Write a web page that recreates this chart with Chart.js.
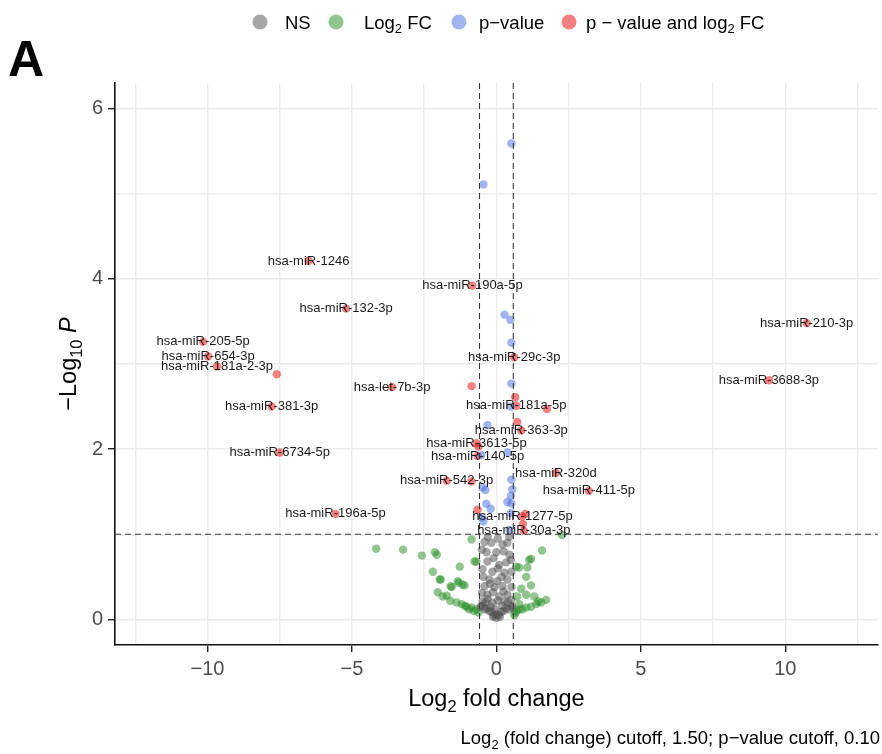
<!DOCTYPE html>
<html>
<head>
<meta charset="utf-8">
<script src="https://cdn.jsdelivr.net/npm/chart.js@4.4.1/dist/chart.umd.min.js"></script>
<style>
  body { margin: 0; background: #fff; }
  #wrap { width: 882px; height: 754px; }
</style>
</head>
<body>
<div id="wrap"><canvas id="volcano" width="882" height="754"></canvas></div>
<script>
// cutoffs
const fcCut = Math.log2(1.5);
const pCut = 1;

// ticks (minor ones get a grid line only)
const xTickValues = [-12.5, -10, -7.5, -5, -2.5, 0, 2.5, 5, 7.5, 10, 12.5];
const xTickLabels = ['', '−10', '', '−5', '', '0', '', '5', '', '10', ''];
const yTickValues = [0, 1, 2, 3, 4, 5, 6];
const yTickLabels = ['0', '', '2', '', '4', '', '6'];

// NS
const nsX = [-0.41, -0.17, 0.21, 0.38, 0.05, -0.30, 0.45, -0.34, 0.00, 0.45, -0.50, 0.25,
  -0.31, 0.10, 0.34, -0.10, 0.50, -0.48, -0.14, 0.28, 0.52, 0.05, -0.24, 0.03, 0.38, -0.45, 0.18,
  -0.41, -0.07, 0.21, 0.52, -0.22, -0.31, 0.10, 0.38, -0.12, 0.25, -0.50, -0.48, -0.14, 0.28, 0.52,
  -0.30, 0.05, -0.34, 0.34, -0.17, 0.17, 0.00, -0.48, 0.52, -0.25, 0.25, -0.08, 0.08, -0.40, 0.42,
  0.00, -0.12, 0.12, -0.55, 0.55, -0.20, 0.20, -0.05, 0.40, -0.38];
const nsY = [0.91, 0.90, 0.88, 0.90, 0.95, 0.97, 0.97, 0.79, 0.79, 0.76, 0.82, 0.80,
  0.68, 0.64, 0.67, 0.72, 0.70, 0.59, 0.56, 0.55, 0.56, 0.60, 0.47, 0.45, 0.47, 0.50, 0.50,
  0.39, 0.38, 0.39, 0.38, 0.42, 0.29, 0.27, 0.29, 0.32, 0.33, 0.31, 0.21, 0.20, 0.21, 0.23,
  0.24, 0.22, 0.13, 0.13, 0.09, 0.09, 0.06, 0.16, 0.16, 0.10, 0.10, 0.05, 0.05, 0.12, 0.12,
  0.02, 0.03, 0.03, 0.15, 0.14, 0.15, 0.16, 0.12, 0.20, 0.20];

// Log2 FC only
const fcX = [-4.16, -3.23, -2.58, -2.06, -1.27, -2.20, -1.93, -1.58, -1.31, -1.10, -2.03, -1.72,
  -0.69, -0.86, -0.76, -2.13, -1.96, -1.55, -1.34, -1.17, -1.86, -1.38, -1.20, -1.03, -0.86, -0.69,
  -0.62, -0.95, -1.10, -0.78, -1.60,
  1.58, 1.20, 1.07, 0.79, 1.03, 1.20, 0.86, 1.03, 1.31, 1.45, 0.72, 0.79, 0.69, 1.13, 2.27,
  0.62, 0.65, 0.70, 0.80, 0.90, 1.03, 1.20, 1.38, 1.55, 1.72];
const fcY = [0.83, 0.82, 0.75, 0.76, 0.62, 0.56, 0.47, 0.39, 0.43, 0.40, 0.32, 0.28,
  0.68, 0.94, 0.68, 0.79, 0.47, 0.38, 0.45, 0.41, 0.27, 0.20, 0.18, 0.15, 0.14, 0.12,
  0.08, 0.12, 0.16, 0.10, 0.22,
  0.81, 0.71, 0.61, 0.61, 0.50, 0.40, 0.36, 0.29, 0.27, 0.21, 0.27, 0.18, 0.62, 0.70, 0.99,
  0.05, 0.08, 0.10, 0.12, 0.12, 0.14, 0.15, 0.18, 0.20, 0.23];

// p-value only
const pX = [0.52, -0.45, 0.28, 0.48, 0.52, 0.52, 0.50, -0.31, 0.38, -0.52, 0.52, 0.55, 0.50,
  -0.48, -0.38, -0.35, 0.52, 0.38, -0.50, -0.45, 0.50, -0.20, 0.45];
const pY = [5.59, 5.11, 3.58, 3.52, 3.25, 2.77, 2.50, 2.28, 1.96, 1.93, 1.64, 1.53, 1.45,
  1.55, 1.52, 1.36, 1.36, 1.38, 1.20, 1.15, 1.25, 1.30, 1.05];

// p-value and log2 FC
const bothX = [-6.50, -5.20, -10.15, -9.98, -9.67, -7.60, -3.61, -7.78, -7.50, -5.57, 10.74, 9.43,
  -0.83, 0.62, -0.86, 0.65, 0.69, 1.75, 0.72, 0.86, -0.69, -0.62, -0.65, 2.06, -1.72, -0.86,
  3.20, -0.65, 0.90, 1.00, 0.92, 0.95];
const bothY = [4.21, 3.65, 3.26, 3.09, 2.97, 2.88, 2.73, 2.50, 1.96, 1.24, 3.48, 2.81,
  3.92, 3.08, 2.74, 2.61, 2.51, 2.47, 2.32, 2.22, 2.07, 2.03, 1.92, 1.72, 1.63, 1.62,
  1.51, 1.29, 1.21, 1.24, 1.12, 1.04];
const bothLabels = ['hsa-miR-1246', 'hsa-miR-132-3p', 'hsa-miR-205-5p', 'hsa-miR-654-3p',
  'hsa-miR-181a-2-3p', '', 'hsa-let-7b-3p', 'hsa-miR-381-3p', 'hsa-miR-6734-5p', 'hsa-miR-196a-5p',
  'hsa-miR-210-3p', 'hsa-miR-3688-3p', 'hsa-miR-190a-5p', 'hsa-miR-29c-3p', '', '',
  'hsa-miR-181a-5p', '', '', 'hsa-miR-363-3p', 'hsa-miR-3613-5p', '', 'hsa-miR-140-5p',
  'hsa-miR-320d', 'hsa-miR-542-3p', '', 'hsa-miR-411-5p', '', 'hsa-miR-1277-5p', '', '',
  'hsa-miR-30a-3p'];

const pts = (xs, ys) => xs.map((v, i) => ({x: v, y: ys[i]}));
const FONT = '"Liberation Sans", Arial, sans-serif';

// draw text made of pieces: [text, 'sub' | 'it' | '']
function rich(ctx, parts, x, y, size, align) {
  const fontOf = p => p[1] === 'sub' ? (size * 0.7) + 'px ' + FONT
    : p[1] === 'it' ? 'italic ' + size + 'px ' + FONT : size + 'px ' + FONT;
  let w = 0;
  parts.forEach(p => { ctx.font = fontOf(p); w += ctx.measureText(p[0]).width; });
  let cx = align === 'center' ? x - w / 2 : align === 'right' ? x - w : x;
  ctx.textAlign = 'left';
  ctx.textBaseline = 'alphabetic';
  parts.forEach(p => {
    ctx.font = fontOf(p);
    ctx.fillText(p[0], cx, p[1] === 'sub' ? y + size * 0.25 : y);
    cx += ctx.measureText(p[0]).width;
  });
}

const decor = {
  id: 'decor',
  beforeDraw(chart) {
    const ctx = chart.ctx;
    ctx.save();
    ctx.fillStyle = '#fff';
    ctx.fillRect(0, 0, chart.width, chart.height);
    ctx.restore();
  },
  afterDatasetsDraw(chart) {
    const {ctx, chartArea: a, scales: {x, y}} = chart;
    ctx.save();
    ctx.setLineDash([6, 4]);
    ctx.strokeStyle = '#3a3a3a';
    ctx.lineWidth = 1.1;
    [-fcCut, fcCut].forEach(v => {
      const px = x.getPixelForValue(v);
      ctx.beginPath(); ctx.moveTo(px, a.top); ctx.lineTo(px, a.bottom); ctx.stroke();
    });
    const py = y.getPixelForValue(pCut);
    ctx.beginPath(); ctx.moveTo(a.left, py); ctx.lineTo(a.right, py); ctx.stroke();
    ctx.setLineDash([]);

    // gene labels on top of their points
    const meta = chart.getDatasetMeta(3);
    ctx.font = '13px ' + FONT;
    ctx.fillStyle = '#1a1a1a';
    ctx.textAlign = 'center';
    ctx.textBaseline = 'middle';
    meta.data.forEach((el, i) => {
      if (bothLabels[i]) ctx.fillText(bothLabels[i], el.x, el.y);
    });
    ctx.restore();
  },
  afterDraw(chart) {
    const {ctx, chartArea: a} = chart;
    ctx.save();
    ctx.fillStyle = '#000';

    // panel letter
    ctx.font = 'bold 50px ' + FONT;
    ctx.textAlign = 'left';
    ctx.textBaseline = 'alphabetic';
    ctx.fillText('A', 8, 76);

    // legend
    const items = [
      {x: 260, tx: 285, parts: [['NS', '']]},
      {x: 336, tx: 364, parts: [['Log', ''], ['2', 'sub'], [' FC', '']]},
      {x: 459, tx: 479, parts: [['p−value', '']]},
      {x: 569, tx: 586, parts: [['p − value and log', ''], ['2', 'sub'], [' FC', '']]}
    ];
    items.forEach((it, i) => {
      ctx.fillStyle = chart.data.datasets[i].backgroundColor;
      ctx.beginPath(); ctx.arc(it.x, 22, 7.5, 0, Math.PI * 2); ctx.fill();
      ctx.fillStyle = '#000';
      rich(ctx, it.parts, it.tx, 28.5, 18.5, 'left');
    });

    // axis titles
    ctx.fillStyle = '#000';
    rich(ctx, [['Log', ''], ['2', 'sub'], [' fold change', '']], (a.left + a.right) / 2, 706, 23.5, 'center');
    ctx.save();
    ctx.translate(76, (a.top + a.bottom) / 2);
    ctx.rotate(-Math.PI / 2);
    rich(ctx, [['−Log', ''], ['10', 'sub'], [' ', ''], ['P', 'it']], 0, 0, 23.5, 'center');
    ctx.restore();

    // caption
    rich(ctx, [['Log', ''], ['2', 'sub'], [' (fold change) cutoff, 1.50; p−value cutoff, 0.10', '']], 880, 744, 18.5, 'right');
    ctx.restore();
  }
};

const tickFont = {family: FONT, size: 20};

new Chart(document.getElementById('volcano'), {
  type: 'scatter',
  data: {
    datasets: [
      {label: 'NS', data: pts(nsX, nsY), backgroundColor: 'rgba(77,77,77,0.5)'},
      {label: 'Log2 FC', data: pts(fcX, fcY), backgroundColor: 'rgba(34,139,34,0.5)'},
      {label: 'p-value', data: pts(pX, pY), backgroundColor: 'rgba(65,105,225,0.5)'},
      {label: 'p-value and log2 FC', data: pts(bothX, bothY), backgroundColor: 'rgba(238,0,0,0.5)'}
    ].map(d => Object.assign(d, {pointRadius: 4.2, borderWidth: 0, pointHoverRadius: 4.2}))
  },
  options: {
    responsive: false,
    animation: false,
    layout: {padding: {top: 83, left: 0, right: 2, bottom: 0}},
    plugins: {legend: {display: false}, tooltip: {enabled: false}},
    scales: {
      x: {
        type: 'linear', min: -13.2, max: 13.2,
        afterFit: s => { s.height = 109; },
        afterBuildTicks: s => { s.ticks = xTickValues.map(v => ({value: v})); },
        ticks: {
          color: '#4d4d4d', font: tickFont, padding: 5, maxRotation: 0, autoSkip: false,
          callback: (v, i) => xTickLabels[i]
        },
        grid: {
          color: '#ebebeb', lineWidth: 1.4, tickLength: 7,
          tickColor: c => xTickLabels[c.index] ? '#222' : 'rgba(0,0,0,0)', tickWidth: 1.4
        },
        border: {color: '#111', width: 1.6}
      },
      y: {
        type: 'linear', min: -0.3, max: 6.3,
        afterFit: s => { s.width = 115; },
        afterBuildTicks: s => { s.ticks = yTickValues.map(v => ({value: v})); },
        ticks: {
          color: '#4d4d4d', font: tickFont, padding: 5, autoSkip: false,
          callback: (v, i) => yTickLabels[i]
        },
        grid: {
          color: '#ebebeb', lineWidth: 1.4, tickLength: 7,
          tickColor: c => yTickLabels[c.index] ? '#222' : 'rgba(0,0,0,0)', tickWidth: 1.4
        },
        border: {color: '#111', width: 1.6}
      }
    }
  },
  plugins: [decor]
});
</script>
</body>
</html>
